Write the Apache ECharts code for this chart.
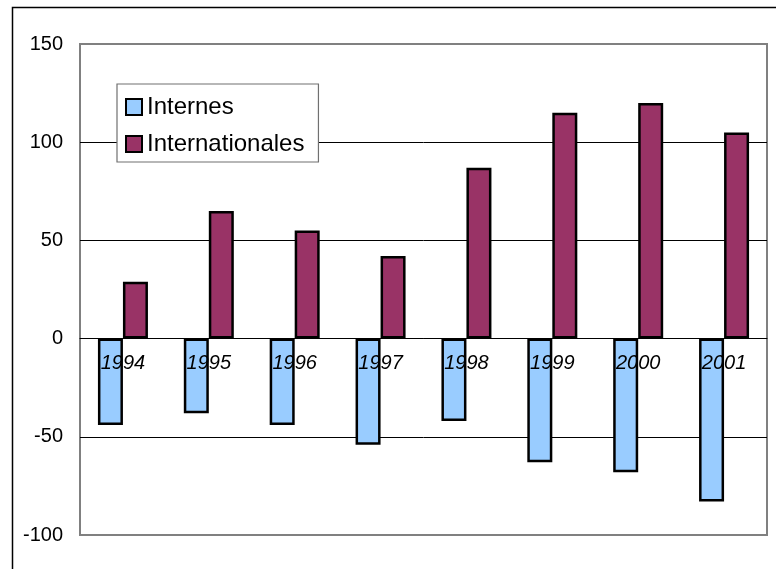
<!DOCTYPE html>
<html>
<head>
<meta charset="utf-8">
<script src="https://cdn.jsdelivr.net/npm/echarts@6/dist/echarts.min.js"></script>
<style>html,body{margin:0;padding:0;background:#fff}#c{width:776px;height:569px}</style>
</head>
<body>
<div id="c"></div>
<script>
var categories = ['1994', '1995', '1996', '1997', '1998', '1999', '2000', '2001'];
var internes = [-44, -38, -44, -54, -42, -63, -68, -83];
var internationales = [29, 65, 55, 42, 87, 115, 120, 105];
var yTicks = { min: -100, max: 150, interval: 50 };

var font = "'Liberation Sans', Arial, sans-serif";
var gridTop = 44, gridBottom = 34, H = 569;
var plotH = H - gridTop - gridBottom;
var zeroOffset = -plotH * (0 - yTicks.min) / (yTicks.max - yTicks.min);

var chart = echarts.init(document.getElementById('c'), null, { renderer: 'canvas' });
chart.setOption({
  animation: false,
  backgroundColor: '#fff',
  graphic: [{
    type: 'rect', left: 10, top: 5, z: 100, silent: true,
    shape: { width: 800, height: 600 },
    style: { fill: 'none', stroke: '#000', lineWidth: 1.5 }
  }],
  grid: {
    left: 80, top: gridTop, right: 9, bottom: gridBottom,
    show: true, borderColor: '#808080', borderWidth: 2, backgroundColor: 'transparent'
  },
  legend: {
    orient: 'vertical', left: 117, top: 84,
    data: ['Internes', 'Internationales'],
    icon: 'rect', itemWidth: 16, itemHeight: 16, itemGap: 11,
    itemStyle: { borderColor: '#000', borderWidth: 2 },
    padding: [10, 14, 5, 8],
    backgroundColor: '#fff', borderColor: '#707070', borderWidth: 1.2,
    textStyle: { fontFamily: font, fontSize: 24, color: '#000', lineHeight: 26 },
    z: 20
  },
  xAxis: {
    type: 'category', data: categories, z: 10,
    position: 'bottom', offset: zeroOffset,
    axisLine: { show: true, onZero: false, lineStyle: { color: '#000', width: 1 } },
    axisTick: { show: false },
    axisLabel: { fontFamily: font, fontSize: 20, fontStyle: 'italic', color: '#000', margin: 15 },
    splitLine: { show: false }
  },
  yAxis: {
    type: 'value', min: yTicks.min, max: yTicks.max, interval: yTicks.interval,
    axisLine: { show: false }, axisTick: { show: false },
    axisLabel: { fontFamily: font, fontSize: 20, color: '#000', margin: 17 },
    splitLine: { show: true, lineStyle: { color: ['#808080', '#000', '#000', '#000', '#000', '#808080'], width: 1 } }
  },
  series: [{
    name: 'Internes', type: 'bar', data: internes,
    barWidth: 25, barGap: '0%',
    itemStyle: { color: '#99CCFF', borderColor: '#000', borderWidth: 2.5 }
  }, {
    name: 'Internationales', type: 'bar', data: internationales,
    barWidth: 25,
    itemStyle: { color: '#993366', borderColor: '#000', borderWidth: 2.5 }
  }]
});
</script>
</body>
</html>
